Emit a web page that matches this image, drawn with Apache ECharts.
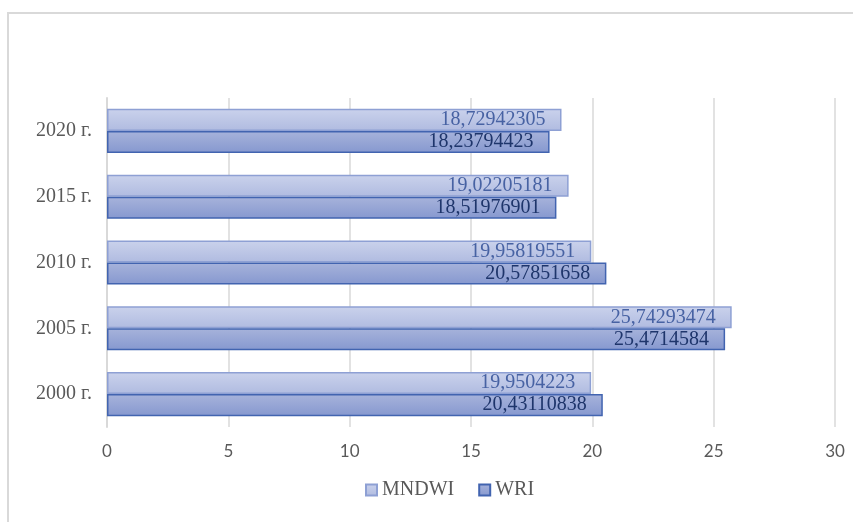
<!DOCTYPE html>
<html>
<head>
<meta charset="utf-8">
<script src="https://cdn.jsdelivr.net/npm/echarts@6/dist/echarts.min.js"></script>
<style>html,body{margin:0;padding:0;background:#fff;}#c{width:853px;height:522px;}</style>
</head>
<body>
<div id="c"></div>
<script>
const categories = ['2000 г.', '2005 г.', '2010 г.', '2015 г.', '2020 г.'];
const mndwi = [19.9504223, 25.74293474, 19.95819551, 19.02205181, 18.72942305];
const wri = [20.43110838, 25.4714584, 20.57851658, 18.51976901, 18.23794423];
const labelsMndwi = ['19,9504223', '25,74293474', '19,95819551', '19,02205181', '18,72942305'];
const labelsWri = ['20,43110838', '25,4714584', '20,57851658', '18,51976901', '18,23794423'];

const chart = echarts.init(document.getElementById('c'));
const serif = '"Liberation Serif", "DejaVu Serif", serif';
chart.setOption({
  animation: false,
  backgroundColor: '#fff',
  graphic: [{
    type: 'rect', shape: { x: 8, y: 13, width: 900, height: 560 },
    style: { fill: 'none', stroke: '#d9d9d9', lineWidth: 2 }, silent: true
  }],
  grid: { left: 107, right: 18, top: 98, bottom: 95 },
  legend: {
    bottom: 17, left: 360,
    data: ['MNDWI', 'WRI'],
    itemWidth: 11, itemHeight: 11, itemGap: 24,
    icon: 'rect',
    textStyle: { color: '#595959', fontFamily: serif, fontSize: 20 }
  },
  xAxis: {
    type: 'value', min: 0, max: 30, interval: 5,
    axisLine: { show: false }, axisTick: { show: false },
    splitLine: { lineStyle: { color: '#d9d9d9', width: 1.5 } },
    axisLabel: { color: '#595959', fontFamily: 'Lato, "Open Sans", sans-serif', fontSize: 17, margin: 16 }
  },
  yAxis: {
    type: 'category', data: categories,
    axisLine: { show: true, lineStyle: { color: '#d9d9d9', width: 2 } },
    axisTick: { show: false },
    axisLabel: { color: '#595959', fontFamily: serif, fontSize: 20, margin: 15 }
  },
  series: [
    {
      name: 'MNDWI', type: 'bar', data: mndwi, barGap: '0%', barCategoryGap: '33%',
      itemStyle: {
        color: new echarts.graphic.LinearGradient(0, 0, 0, 1, [
          { offset: 0, color: '#cad2ec' }, { offset: 1, color: '#b0bbe0' }]),
        borderColor: '#8ea0d4', borderWidth: 1.5
      },
      label: {
        show: true, position: 'insideRight', distance: 16,
        formatter: p => labelsMndwi[p.dataIndex],
        color: '#4762a3', fontFamily: serif, fontSize: 20
      }
    },
    {
      name: 'WRI', type: 'bar', data: wri, barGap: '0%', barCategoryGap: '33%',
      itemStyle: {
        color: new echarts.graphic.LinearGradient(0, 0, 0, 1, [
          { offset: 0, color: '#a7b3db' }, { offset: 1, color: '#8698cf' }]),
        borderColor: '#4264b0', borderWidth: 1.5
      },
      label: {
        show: true, position: 'insideRight', distance: 16,
        formatter: p => labelsWri[p.dataIndex],
        color: '#1e356b', fontFamily: serif, fontSize: 20
      }
    }
  ]
});
</script>
</body>
</html>
